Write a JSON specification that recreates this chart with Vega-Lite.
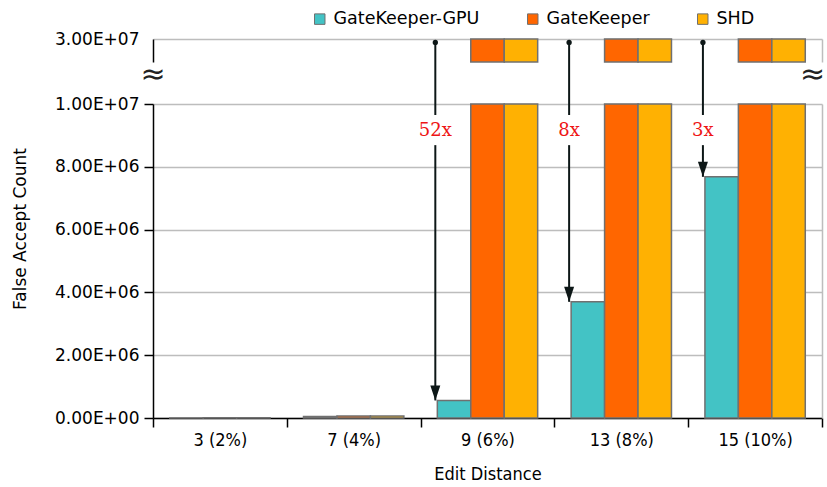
{
  "$schema": "https://vega.github.io/schema/vega-lite/v6.json",
  "width": 669,
  "height": 379,
  "autosize": {"type": "none"},
  "padding": {"left": 153, "top": 39, "right": 5, "bottom": 69},
  "config": {"view": {"stroke": null}, "font": "DejaVu Sans"},
  "datasets": {
    "bars": [
      {"dist": "3 (2%)", "series": "GateKeeper-GPU", "value": 3000},
      {"dist": "3 (2%)", "series": "GateKeeper", "value": 8000},
      {"dist": "3 (2%)", "series": "SHD", "value": 8000},
      {"dist": "7 (4%)", "series": "GateKeeper-GPU", "value": 50000},
      {"dist": "7 (4%)", "series": "GateKeeper", "value": 65000},
      {"dist": "7 (4%)", "series": "SHD", "value": 65000},
      {"dist": "9 (6%)", "series": "GateKeeper-GPU", "value": 560000},
      {"dist": "9 (6%)", "series": "GateKeeper", "value": 30000000},
      {"dist": "9 (6%)", "series": "SHD", "value": 30000000},
      {"dist": "13 (8%)", "series": "GateKeeper-GPU", "value": 3700000},
      {"dist": "13 (8%)", "series": "GateKeeper", "value": 30000000},
      {"dist": "13 (8%)", "series": "SHD", "value": 30000000},
      {"dist": "15 (10%)", "series": "GateKeeper-GPU", "value": 7680000},
      {"dist": "15 (10%)", "series": "GateKeeper", "value": 30000000},
      {"dist": "15 (10%)", "series": "SHD", "value": 30000000}
    ],
    "notes": [
      {"dist": "9 (6%)", "ratio": "52x", "target": 560000},
      {"dist": "13 (8%)", "ratio": "8x", "target": 3700000},
      {"dist": "15 (10%)", "ratio": "3x", "target": 7680000}
    ]
  },
  "layer": [
    {
      "data": {"name": "bars"},
      "mark": {"type": "bar", "stroke": "#707070", "strokeWidth": 1.5},
      "encoding": {
        "x": {
          "field": "dist", "type": "nominal",
          "scale": {"domain": ["3 (2%)", "7 (4%)", "9 (6%)", "13 (8%)", "15 (10%)"], "paddingInner": 0, "paddingOuter": 0},
          "axis": {"title": "Edit Distance", "tickBand": "extent", "labelAngle": 0, "labelFont": "DejaVu Sans Condensed", "labelFontSize": 18, "labelColor": "black", "titleFont": "DejaVu Sans Condensed", "titleFontSize": 18, "titleFontWeight": "normal", "titleColor": "black", "titlePadding": 16, "domainColor": "black", "domainWidth": 1.5, "tickColor": "black", "tickWidth": 1.5, "tickSize": 9, "labelPadding": 4, "grid": false}
        },
        "xOffset": {"field": "series", "type": "nominal", "sort": ["GateKeeper-GPU", "GateKeeper", "SHD"], "scale": {"paddingInner": 0, "paddingOuter": 0.5}},
        "y": {
          "field": "value", "type": "quantitative",
          "scale": {"domain": [0, 10000000], "range": [379, 65], "clamp": true, "nice": false},
          "axis": {"orient": "left", "values": [0, 2000000, 4000000, 6000000, 8000000, 10000000], "labelExpr": "replace(format(datum.value, '.2e'), 'e+', 'E+0')", "title": null, "grid": true, "gridColor": "#bdbdbd", "gridWidth": 1.5, "domainColor": "black", "domainWidth": 1.5, "tickColor": "black", "tickWidth": 1.5, "tickSize": 9, "labelFontSize": 17, "labelColor": "black", "labelPadding": 5}
        },
        "color": {
          "field": "series", "type": "nominal",
          "scale": {"domain": ["GateKeeper-GPU", "GateKeeper", "SHD"], "range": ["#43c3c5", "#ff6600", "#ffb102"]},
          "legend": {"orient": "none", "legendX": 158, "legendY": -29, "direction": "horizontal", "title": null, "symbolType": "square", "symbolSize": 110, "symbolStrokeColor": "#666666", "symbolStrokeWidth": 1, "labelFontSize": 17.5, "labelColor": "black", "columnPadding": 44, "labelOffset": 5}
        }
      }
    },
    {
      "data": {"name": "bars"},
      "transform": [{"filter": "datum.value > 10000000"}],
      "mark": {"type": "bar", "stroke": "#707070", "strokeWidth": 1.5},
      "encoding": {
        "x": {"field": "dist", "type": "nominal"},
        "xOffset": {"field": "series", "type": "nominal", "sort": ["GateKeeper-GPU", "GateKeeper", "SHD"]},
        "y": {
          "field": "value", "type": "quantitative",
          "scale": {"domain": [29000000, 30000000], "range": [23, 0], "clamp": true, "nice": false, "zero": false},
          "axis": {"orient": "left", "values": [30000000], "labelExpr": "replace(format(datum.value, '.2e'), 'e+', 'E+0')", "title": null, "grid": true, "gridColor": "#bdbdbd", "gridWidth": 1.5, "domainColor": "black", "domainWidth": 1.5, "tickColor": "transparent", "tickSize": 9, "labelFontSize": 17, "labelColor": "black", "labelPadding": 5}
        },
        "y2": {"datum": 29000000},
        "color": {"field": "series", "type": "nominal"}
      }
    },
    {
      "data": {"name": "notes"},
      "mark": {"type": "rule", "color": "#0d1717", "strokeWidth": 2},
      "encoding": {
        "x": {"field": "dist", "type": "nominal", "bandPosition": 0.11},
        "y": {
          "datum": 29000000, "type": "quantitative",
          "scale": {"domain": [0, 10000000, 30000000], "range": [379, 65, 0], "nice": false, "zero": false},
          "axis": {"orient": "left", "title": "False Accept Count", "domain": false, "labels": false, "ticks": false, "grid": false, "titlePadding": 124, "titleFontSize": 17, "titleFontWeight": "normal", "titleColor": "black"}
        },
        "y2": {"datum": 9650000}
      }
    },
    {
      "data": {"name": "notes"},
      "mark": {"type": "rule", "color": "#0d1717", "strokeWidth": 2},
      "encoding": {
        "x": {"field": "dist", "type": "nominal", "bandPosition": 0.11},
        "y": {
          "field": "target", "type": "quantitative",
          "scale": {"domain": [0, 10000000], "range": [379, 65], "nice": false},
          "axis": {"orient": "right", "title": null, "labels": false, "ticks": false, "grid": false, "domainColor": "#bdbdbd", "domainWidth": 1.5}
        },
        "y2": {"datum": 8690000}
      }
    },
    {
      "data": {"name": "notes"},
      "mark": {"type": "point", "filled": true, "color": "#0d1717", "size": 28, "opacity": 1},
      "encoding": {
        "x": {"field": "dist", "type": "nominal", "bandPosition": 0.11},
        "y": {
          "datum": 29850000, "type": "quantitative",
          "scale": {"domain": [29000000, 30000000], "range": [23, 0], "nice": false, "zero": false},
          "axis": {"orient": "right", "title": null, "labels": false, "ticks": false, "grid": false, "domainColor": "#bdbdbd", "domainWidth": 1.5}
        }
      }
    },
    {
      "data": {"name": "notes"},
      "mark": {"type": "point", "filled": true, "color": "#0d1717", "opacity": 1, "shape": "M-1,-3L1,-3L0,0Z", "size": 100},
      "encoding": {
        "x": {"field": "dist", "type": "nominal", "bandPosition": 0.11},
        "y": {
          "field": "target", "type": "quantitative",
          "scale": {"domain": [0, 10000000], "range": [379, 65], "nice": false},
          "axis": null
        }
      }
    },
    {
      "data": {"name": "notes"},
      "mark": {"type": "text", "font": "DejaVu Serif", "fontSize": 18, "color": "#ee1515", "align": "center", "baseline": "middle"},
      "encoding": {
        "x": {"field": "dist", "type": "nominal", "bandPosition": 0.11},
        "y": {
          "datum": 9130000, "type": "quantitative",
          "scale": {"domain": [0, 10000000], "range": [379, 65], "nice": false},
          "axis": null
        },
        "text": {"field": "ratio"}
      }
    },
    {
      "data": {"values": [{"sym": "≈", "dist": "3 (2%)"}]},
      "mark": {"type": "text", "fontSize": 30, "color": "#222222", "align": "center", "baseline": "middle"},
      "encoding": {
        "x": {"field": "dist", "type": "nominal", "bandPosition": 0},
        "y": {
          "datum": 19000000, "type": "quantitative",
          "scale": {"domain": [0, 10000000, 30000000], "range": [379, 65, 0], "nice": false, "zero": false},
          "axis": null
        },
        "text": {"field": "sym"}
      }
    },
    {
      "data": {"values": [{"sym": "≈", "dist": "15 (10%)"}]},
      "mark": {"type": "text", "fontSize": 30, "color": "#222222", "align": "center", "baseline": "middle"},
      "encoding": {
        "x": {"field": "dist", "type": "nominal", "bandPosition": 0.93},
        "y": {
          "datum": 19000000, "type": "quantitative",
          "scale": {"domain": [0, 10000000, 30000000], "range": [379, 65, 0], "nice": false, "zero": false},
          "axis": null
        },
        "text": {"field": "sym"}
      }
    }
  ],
  "resolve": {"scale": {"y": "independent"}, "axis": {"y": "independent"}}
}
